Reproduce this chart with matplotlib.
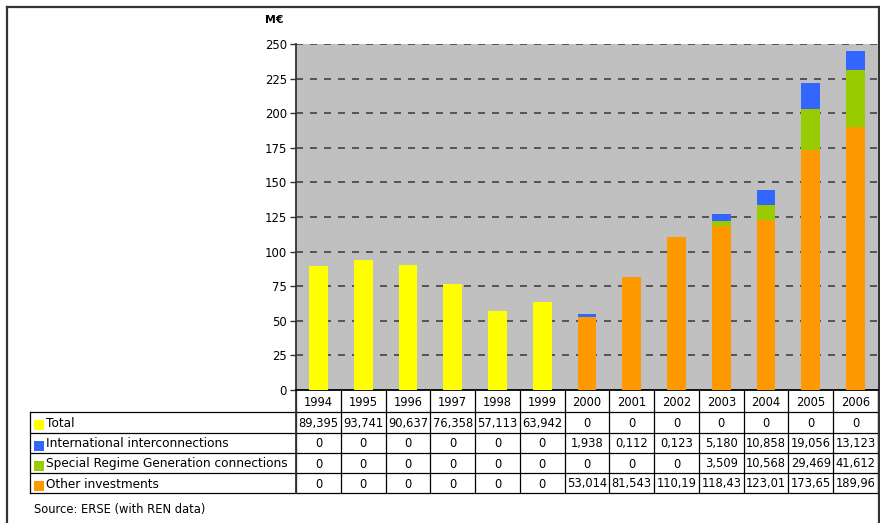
import matplotlib
matplotlib.use("Agg")
import matplotlib.pyplot as plt
import matplotlib.transforms as mtransforms
from matplotlib.patches import Rectangle
import numpy as np

plt.rcParams['font.family'] = ['DejaVu Sans']

years = ["1994", "1995", "1996", "1997", "1998", "1999", "2000",
         "2001", "2002", "2003", "2004", "2005", "2006"]
total = [89.395, 93.741, 90.637, 76.358, 57.113, 63.942, 0, 0, 0, 0, 0, 0, 0]
international = [0, 0, 0, 0, 0, 0, 1.938, 0.112, 0.123, 5.180, 10.858, 19.056, 13.123]
special_regime = [0, 0, 0, 0, 0, 0, 0, 0, 0, 3.509, 10.568, 29.469, 41.612]
other_inv = [0, 0, 0, 0, 0, 0, 53.014, 81.543, 110.19, 118.43, 123.01, 173.65, 189.96]

series_names = ["Total", "International interconnections",
                "Special Regime Generation connections", "Other investments"]
series_colors = ["#FFFF00", "#3366FF", "#99CC00", "#FF9900"]
table_text = [
    ["89,395", "93,741", "90,637", "76,358", "57,113", "63,942", "0", "0", "0", "0", "0", "0", "0"],
    ["0", "0", "0", "0", "0", "0", "1,938", "0,112", "0,123", "5,180", "10,858", "19,056", "13,123"],
    ["0", "0", "0", "0", "0", "0", "0", "0", "0", "3,509", "10,568", "29,469", "41,612"],
    ["0", "0", "0", "0", "0", "0", "53,014", "81,543", "110,19", "118,43", "123,01", "173,65", "189,96"],
]

W, H = 880, 523
fig = plt.figure(figsize=(W / 100, H / 100), dpi=100)

# pixel-space overlay for frame, table and captions
ov = fig.add_axes([0, 0, 1, 1], zorder=0)
ov.set_xlim(0, W)
ov.set_ylim(H, 0)
ov.axis("off")

# plot area
pl, pr, pt, pb = 296, 878, 44, 390
ax = fig.add_axes([pl / W, (H - pb) / H, (pr - pl) / W, (pb - pt) / H], zorder=1)
ax.set_facecolor("#C0C0C0")

x = np.arange(len(years))
bw = 0.42
tot = np.array(total)
oth = np.array(other_inv)
spe = np.array(special_regime)
itl = np.array(international)
ax.bar(x, tot, bw, color=series_colors[0], zorder=3)
ax.bar(x, oth, bw, color=series_colors[3], zorder=3)
ax.bar(x, spe, bw, bottom=oth, color=series_colors[2], zorder=3)
ax.bar(x, itl, bw, bottom=oth + spe, color=series_colors[1], zorder=3)

ax.set_xlim(-0.5, len(years) - 0.5)
ax.set_ylim(0, 250)
ax.set_yticks(np.arange(0, 251, 25))
for v in np.arange(25, 251, 25):
    ax.axhline(v, color="#555555", lw=1.4, dashes=(3.6, 3.6), zorder=2)
ax.set_xticks([])
for s in ("top", "right"):
    ax.spines[s].set_visible(False)
ax.spines["left"].set_color("#333333")
ax.spines["left"].set_linewidth(1.3)
ax.spines["bottom"].set_color("#000000")
ax.spines["bottom"].set_linewidth(1.3)
ax.tick_params(axis="y", length=4.5, width=1, color="#333333", pad=2,
               labelsize=8.4, labelcolor="#000000")

# table grid, x in bar data coordinates, y in pixels
tr = mtransforms.blended_transform_factory(ax.transData, ov.transData)
row_y = [412, 432.5, 453, 473, 493]
year_mid = (pb + row_y[0]) / 2
lc = "#000000"
for i in range(len(years) + 1):
    ov.plot([i - 0.5, i - 0.5], [pb, row_y[-1]], color=lc, lw=0.9,
            transform=tr, clip_on=False, solid_capstyle="butt")
for y in row_y:
    ov.plot([30, pr], [y, y], color=lc, lw=0.9, clip_on=False)
ov.plot([30, 30], [row_y[0], row_y[-1]], color=lc, lw=0.9, clip_on=False)
ov.plot([pl, pl], [pb, row_y[-1]], color="#333333", lw=1.3, clip_on=False)

tfs = 8.3
for i, yr in enumerate(years):
    ov.text(i, year_mid + 1, yr, transform=tr, ha="center", va="center",
            fontsize=tfs, color="#000000")
for r in range(4):
    ymid = (row_y[r] + row_y[r + 1]) / 2
    for i in range(len(years)):
        ov.text(i, ymid + 1, table_text[r][i], transform=tr, ha="center",
                va="center", fontsize=tfs, color="#000000")
    ov.add_patch(Rectangle((34, row_y[r + 1] - 12.5), 10, 10,
                           color=series_colors[r], lw=0))
    ov.text(46, ymid + 1, series_names[r], ha="left", va="center",
            fontsize=8.75, color="#000000")

ov.text(265, 20, "M€", ha="left", va="center", fontsize=7.8,
        fontweight="bold", color="#000000")
ov.text(34, 509, "Source: ERSE (with REN data)", ha="left", va="center",
        fontsize=8.3, color="#000000")

# outer frame
fc = "#333333"
ov.plot([7, 7], [6.5, H + 5], color=fc, lw=1.6, clip_on=False)
ov.plot([7, 879], [6.5, 6.5], color=fc, lw=1.6, clip_on=False)
ov.plot([879, 879], [6.5, H + 5], color=fc, lw=1.6, clip_on=False)

fig.savefig("out.png", dpi=100)
